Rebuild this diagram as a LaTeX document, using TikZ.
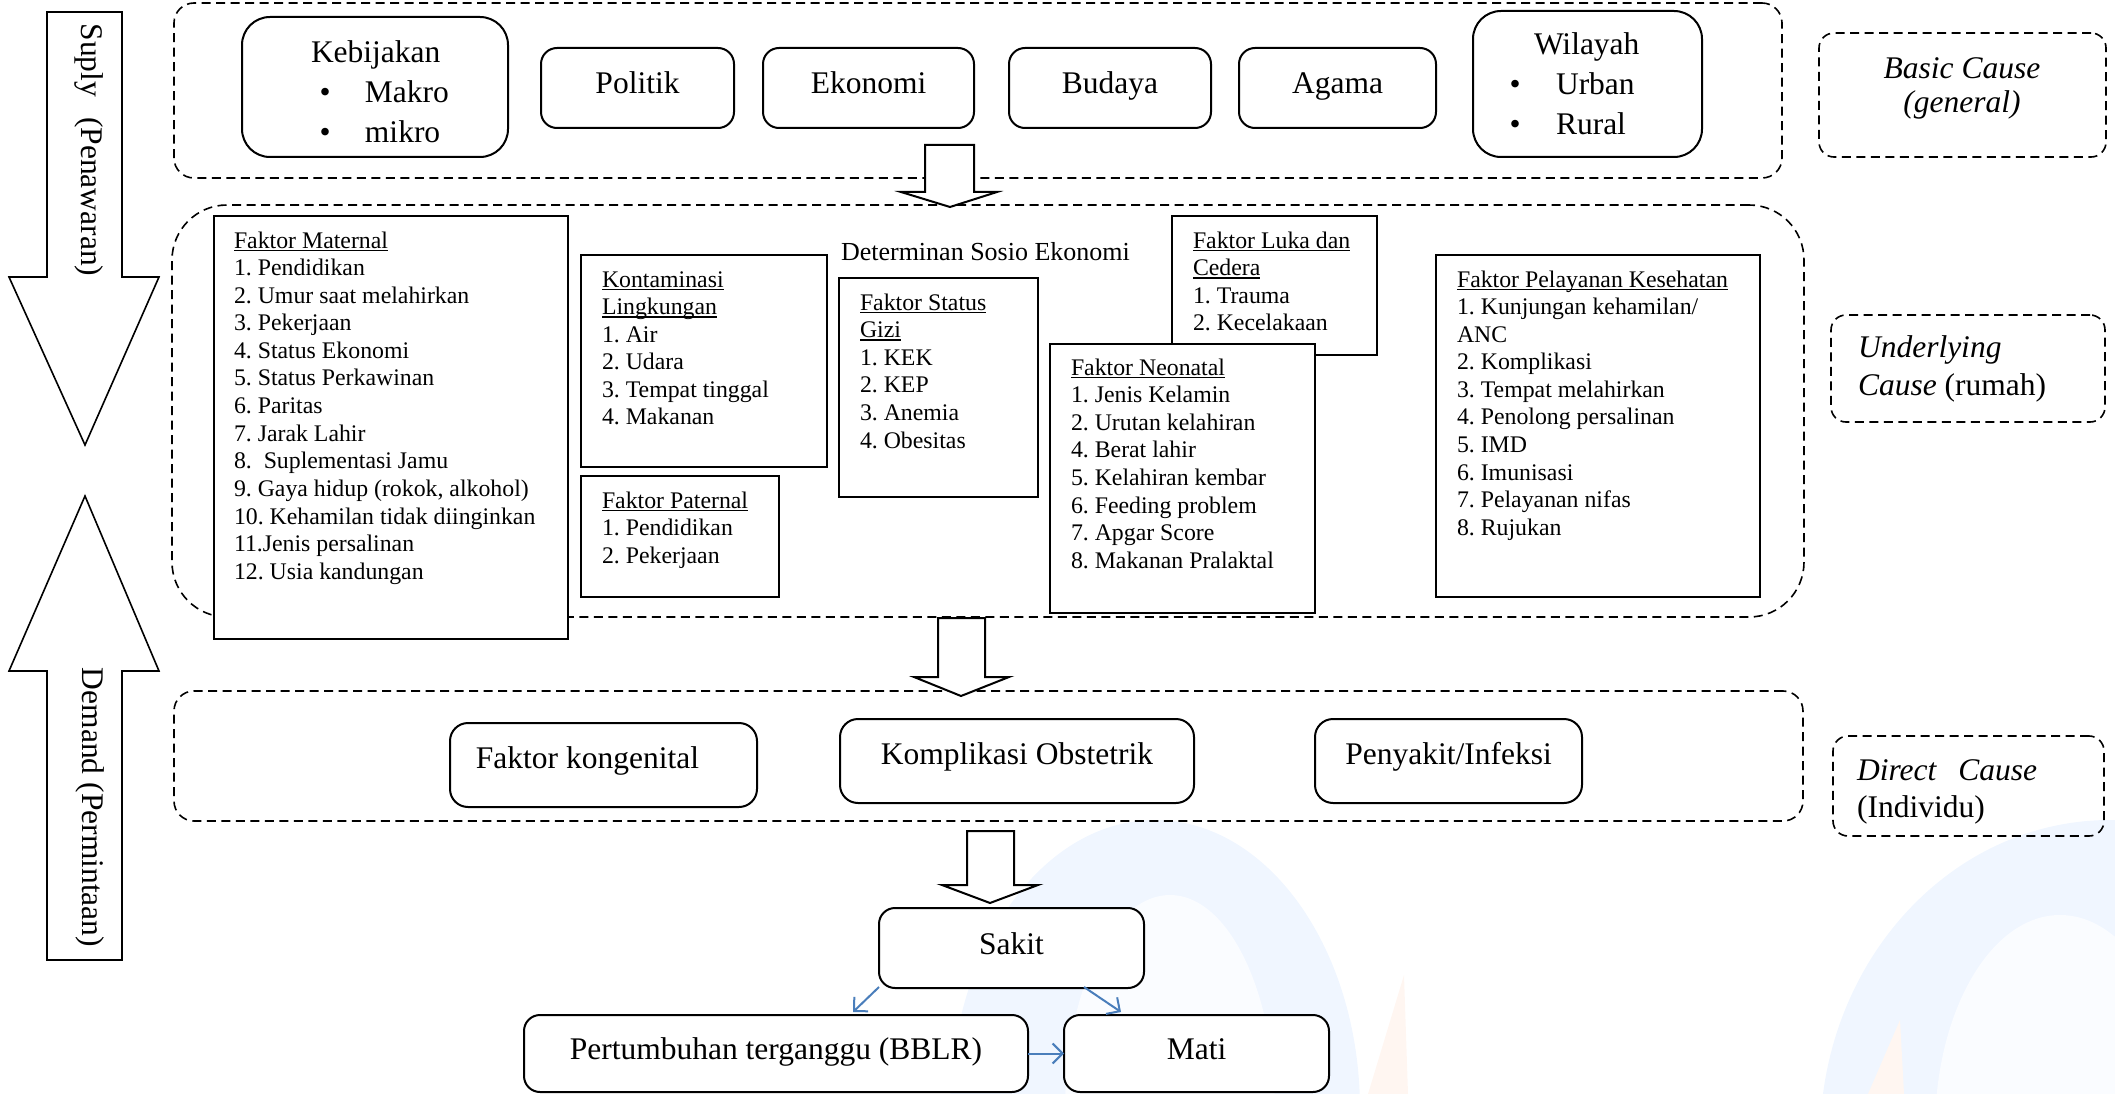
\documentclass[tikz,border=0pt]{standalone}
\usepackage{fontspec}
\setmainfont{Liberation Serif}
\usetikzlibrary{arrows.meta,calc}

\definecolor{linkblue}{RGB}{74,126,187}
\definecolor{wmblue}{RGB}{240,246,255}
\definecolor{wmpale}{RGB}{250,252,255}
\definecolor{wmorange}{RGB}{255,246,241}

% underline that sits at a fixed depth, crossing descenders
\newcommand\ulword[1]{\setbox0\hbox{#1}\rlap{\rule[-3pt]{\wd0}{1.2pt}}\box0}
\newcommand\bigfont{\fontsize{31.5}{40}\selectfont}
\newcommand\listfont{\fontsize{23.8}{27.6}\selectfont}
\newcommand\bul[1]{\makebox[#1][l]{\textbullet}}

\begin{document}
\frenchspacing
\begin{tikzpicture}[x=1pt,y=-1pt,
  every node/.style={inner sep=0pt,outer sep=0pt},
  group/.style={draw,line width=1.6pt,dash pattern=on 9pt off 5.5pt},
  tag/.style={group,rounded corners=15pt},
  framebox/.style={draw,line width=2pt,fill=white},
  roundbox/.style={framebox,rounded corners=16pt,font=\bigfont,text height=22pt,text depth=10pt},
  listtext/.style={anchor=base west,font=\listfont},
  labeltext/.style={anchor=base west,font=\bigfont},
  blockarrow/.style={draw,line width=2pt,fill=white,line join=miter},
  sidearrow/.style={draw,line width=1.6pt,fill=white,line join=miter},
  link/.style={draw=linkblue,line width=2pt,-{Straight Barb[length=10pt,width=20pt,line width=2pt]}}
]
\useasboundingbox (0,0) rectangle (2115,1094);

% faint logo watermark in the lower right
\begin{scope}
  \clip (0,0) rectangle (2115,1094);
  \fill[wmblue] (1155,1110) ellipse [x radius=205pt, y radius=290pt];
  \fill[wmpale] (1170,1110) ellipse [x radius=105pt, y radius=215pt];
  \fill[wmblue] (2110,1140) ellipse [x radius=290pt, y radius=320pt];
  \fill[wmpale] (2060,1130) ellipse [x radius=125pt, y radius=215pt];
  \fill[wmorange] (1368,1094) -- (1404,975) -- (1408,1094) -- cycle;
  \fill[wmorange] (1868,1094) -- (1900,1020) -- (1904,1094) -- cycle;
\end{scope}

% supply / demand side arrows
\draw[sidearrow] (47,12) -- (122,12) -- (122,277) -- (159,277) -- (85,445) -- (9,277) -- (47,277) -- cycle;
\draw[sidearrow] (85,496) -- (159,671) -- (122,671) -- (122,960) -- (47,960) -- (47,671) -- (9,671) -- cycle;
\node[rotate=-90,font=\bigfont] (supplytxt) at (89,150) {Suply\hspace{12pt} (Penawaran)};
\node[rotate=-90,font=\bigfont] (demandtxt) at (90,807.5) {Demand (Permintaan)};

% dashed groups
\node[group,rounded corners=20pt,minimum width=1608pt,minimum height=175pt] (basicgrp) at (978,90.5) {};
\node[group,rounded corners=55pt,minimum width=1632pt,minimum height=412pt] (undergrp) at (988,411) {};
\node[group,rounded corners=20pt,minimum width=1629pt,minimum height=130pt] (directgrp) at (988.5,756) {};

% level tags on the right
\node[tag,minimum width=287pt,minimum height=124pt] (basictag) at (1962.5,95) {};
\node[tag,minimum width=274pt,minimum height=107pt] (undertag) at (1968,368.5) {};
\node[tag,minimum width=271pt,minimum height=100pt] (directtag) at (1968.5,786) {};
\node[anchor=base,font=\fontsize{31.5}{34}\selectfont] (basictxt) at (1962,79)
  {\begin{tabular}[t]{@{}c@{}}\textit{Basic Cause}\\\textit{(general)}\end{tabular}};
\node[anchor=base west,font=\fontsize{31.5}{38}\selectfont] (undertxt) at (1858,357)
  {\begin{tabular}[t]{@{}l@{}}\textit{Underlying}\\\textit{Cause} (rumah)\end{tabular}};
\node[anchor=base west,font=\fontsize{31.5}{37}\selectfont] (directtxt) at (1857,780)
  {\begin{tabular}[t]{@{}l@{}}\textit{Direct\hspace{22pt}Cause}\\(Individu)\end{tabular}};

% basic causes
\node[roundbox,rounded corners=28pt,minimum width=266pt,minimum height=140pt] (kebijakan) at (375,87) {};
\node[labeltext] (kebtxt) at (311,63)
  {\begin{tabular}[t]{@{}l@{}}Kebijakan\\\hspace{8.5pt}\bul{45.5pt}Makro\\\hspace{8.5pt}\bul{45.5pt}mikro\end{tabular}};
\node[roundbox,minimum width=193pt,minimum height=80pt] (politik) at (637.5,88) {Politik};
\node[roundbox,minimum width=211pt,minimum height=80pt] (ekonomi) at (868.5,88) {Ekonomi};
\node[roundbox,minimum width=202pt,minimum height=80pt] (budaya) at (1110,88) {Budaya};
\node[roundbox,minimum width=197pt,minimum height=80pt] (agama) at (1337.5,88) {Agama};
\node[roundbox,rounded corners=28pt,minimum width=229pt,minimum height=146pt] (wilayah) at (1587.5,84) {};
\node[labeltext] (wiltxt) at (1509.5,55)
  {\begin{tabular}[t]{@{}l@{}}\hspace{24.5pt}Wilayah\\\bul{46.5pt}Urban\\\bul{46.5pt}Rural\end{tabular}};

% block arrow: basic -> underlying
\draw[blockarrow] (925,145) -- (974,145) -- (974,192) -- (997,192) -- (950,207) -- (901,192) -- (925,192) -- cycle;

% underlying causes
\node[framebox,minimum width=354pt,minimum height=423pt] (maternal) at (391,427.5) {};
\node[listtext] (maternaltxt) at (234,248)
  {\begin{tabular}[t]{@{}l@{}}\ulword{Faktor Maternal}\\1. Pendidikan\\2. Umur saat melahirkan\\3. Pekerjaan\\4. Status Ekonomi\\5. Status Perkawinan\\6. Paritas\\7. Jarak Lahir\\8.\ \ Suplementasi Jamu\\9. Gaya hidup (rokok, alkohol)\\10. Kehamilan tidak diinginkan\\11.Jenis persalinan\\12. Usia kandungan\end{tabular}};

\node[framebox,minimum width=246pt,minimum height=212pt] (lingkungan) at (704,361) {};
\node[listtext] (lingkungantxt) at (602,287)
  {\begin{tabular}[t]{@{}l@{}}\ulword{Kontaminasi}\\\ulword{Lingkungan}\\1. Air\\2. Udara\\3. Tempat tinggal\\4. Makanan\end{tabular}};

\node[framebox,minimum width=198pt,minimum height=121pt] (paternal) at (680,536.5) {};
\node[listtext] (paternaltxt) at (602,508)
  {\begin{tabular}[t]{@{}l@{}}\ulword{Faktor Paternal}\\1. Pendidikan\\2. Pekerjaan\end{tabular}};

\node[anchor=base west,font=\fontsize{26}{30}\selectfont] (sosio) at (841,260) {Determinan Sosio Ekonomi};

\node[framebox,minimum width=199pt,minimum height=219pt] (gizi) at (938.5,387.5) {};
\node[listtext] (gizitxt) at (860,310)
  {\begin{tabular}[t]{@{}l@{}}\ulword{Faktor Status}\\\ulword{Gizi}\\1. KEK\\2. KEP\\3. Anemia\\4. Obesitas\end{tabular}};

\node[framebox,minimum width=205pt,minimum height=139pt] (luka) at (1274.5,285.5) {};
\node[listtext] (lukatxt) at (1193,248)
  {\begin{tabular}[t]{@{}l@{}}\ulword{Faktor Luka dan}\\\ulword{Cedera}\\1. Trauma\\2. Kecelakaan\end{tabular}};

\node[framebox,minimum width=265pt,minimum height=269pt] (neonatal) at (1182.5,478.5) {};
\node[listtext] (neonataltxt) at (1071,375)
  {\begin{tabular}[t]{@{}l@{}}\ulword{Faktor Neonatal}\\1. Jenis Kelamin\\2. Urutan kelahiran\\4. Berat lahir\\5. Kelahiran kembar\\6. Feeding problem\\7. Apgar Score\\8. Makanan Pralaktal\end{tabular}};

\node[framebox,minimum width=324pt,minimum height=342pt] (pelayanan) at (1598,426) {};
\node[listtext] (pelayanantxt) at (1457,287)
  {\begin{tabular}[t]{@{}l@{}}\ulword{Faktor Pelayanan Kesehatan}\\1. Kunjungan kehamilan/\\ANC\\2. Komplikasi\\3. Tempat melahirkan\\4. Penolong persalinan\\5. IMD\\6. Imunisasi\\7. Pelayanan nifas\\8. Rujukan\end{tabular}};

% block arrow: underlying -> direct
\draw[blockarrow] (938,618) -- (985,618) -- (985,677) -- (1009,677) -- (961,696) -- (914,677) -- (938,677) -- cycle;

% direct causes
\node[roundbox,rounded corners=18pt,text depth=15pt,minimum width=307pt,minimum height=84pt] (kongenital) at (603.5,765) {Faktor kongenital\hspace*{32pt}};
\node[roundbox,rounded corners=18pt,text depth=15pt,minimum width=354pt,minimum height=84pt] (komplikasi) at (1017,761) {Komplikasi Obstetrik};
\node[roundbox,rounded corners=18pt,text depth=15pt,minimum width=267pt,minimum height=84pt] (penyakit) at (1448.5,761) {Penyakit/Infeksi};

% block arrow: direct -> outcome
\draw[blockarrow] (967,831) -- (1014,831) -- (1014,885) -- (1038,885) -- (990,903) -- (942,885) -- (967,885) -- cycle;

% outcomes
\node[roundbox,minimum width=265pt,minimum height=80pt] (sakit) at (1011.5,948) {Sakit};
\node[roundbox,minimum width=504pt,minimum height=77pt] (tumbuh) at (776,1053.5) {Pertumbuhan terganggu (BBLR)};
\node[roundbox,minimum width=265pt,minimum height=77pt] (mati) at (1196.5,1053.5) {Mati};

\draw[link] ($(sakit.south west)+(0,-1)$) -- ($(tumbuh.north west)+(329,-3)$);
\draw[link] ($(sakit.south east)+(-60,-1)$) -- ($(mati.north west)+(57,-3)$);
\draw[link] (tumbuh.east) -- (mati.west);
\end{tikzpicture}
\end{document}
